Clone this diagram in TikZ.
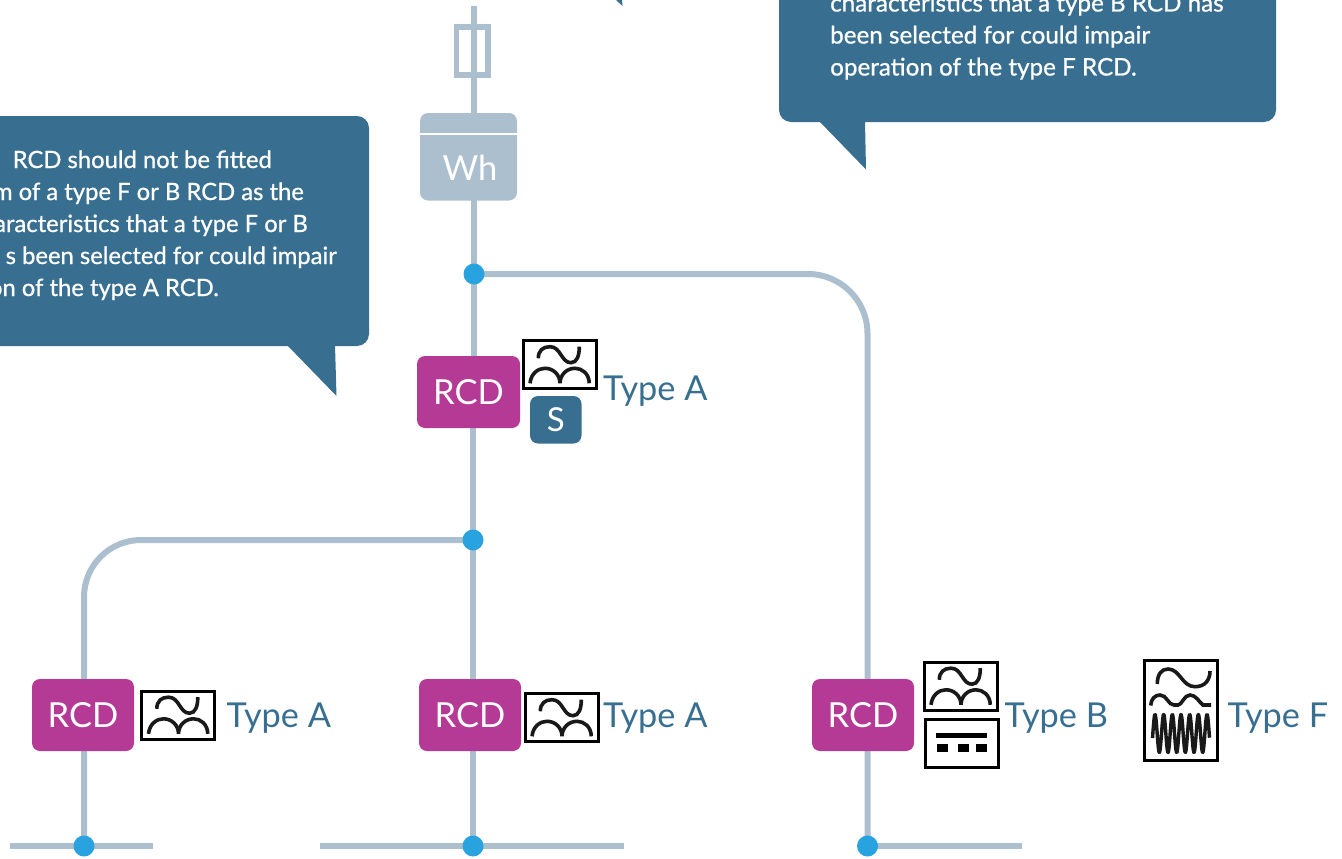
\documentclass[tikz,border=0pt]{standalone}
\usepackage{fontspec}
\setmainfont{Lato}
\newfontfamily\bubblefont[FakeBold=0.8]{Lato}
\usetikzlibrary{backgrounds}
\definecolor{wire}{HTML}{ACBFCF}
\definecolor{dotblue}{HTML}{29A3DF}
\definecolor{rcdpink}{HTML}{B53A96}
\definecolor{steel}{HTML}{386F91}
\tikzset{
  wireline/.style={draw=wire,line width=6pt},
  junction/.style={circle,fill=dotblue,inner sep=0pt,minimum size=21pt},
  rcdbox/.style={fill=rcdpink,rounded corners=8pt,inner sep=0pt,minimum width=102pt,minimum height=72pt,text=white,font=\fontsize{34.5}{34.5}\selectfont},
  typelabel/.style={anchor=base west,inner sep=0pt,text=steel,font=\fontsize{34.3}{34.3}\selectfont},
  bubble/.style={fill=steel,rounded corners=12pt},
  bubbletext/.style={inner sep=0pt,text=white,font=\fontsize{24.2}{24.2}\bubblefont},
  bubbletextleft/.style={inner sep=0pt,text=white,anchor=base east,font=\fontsize{23.8}{23.8}\bubblefont},
  iconframe/.style={draw=black,line width=3pt,fill=white},
  iconcurve/.style={draw=black!90,line width=3.6pt,line cap=butt},
  pics/acicon/.style={code={
    \draw[iconframe] (0,0) rectangle (73,48);
    \draw[iconcurve] (15.3,17.8) .. controls (15.3,10) and (20,6.2) .. (27,6.2) .. controls (38,6.2) and (38,22.2) .. (48,22.2) .. controls (54,22.2) and (56.3,15) .. (56.3,6.2);
    \draw[iconcurve] (7,42.8) .. controls (8,33) and (15,27.8) .. (22,27.8) .. controls (30,27.8) and (37,34) .. (37,42.8) .. controls (37,34) and (44,27.8) .. (52,27.8) .. controls (59,27.8) and (66,33) .. (66.3,42.8);
  }}
}
\begin{document}
\begin{tikzpicture}[x=1pt,y=-1pt]
\useasboundingbox (0,0) rectangle (1342,859);
\clip (0,0) rectangle (1342,859);
% bubbles
\fill[steel] (616,0) -- (622.5,6) -- (622,0) -- cycle;
\fill[bubble] (779,-40) -- (779,122) -- (1276,122) -- (1276,-40) -- cycle;
\fill[steel] (819,121) -- (866,169.5) -- (865,121) -- cycle;
\fill[bubble] (-40,116) rectangle (369,346);
\fill[steel] (287,345) -- (336.5,396) -- (335,345) -- cycle;
\node[bubbletext,anchor=base west] at (830,11.5) {characteristics that a type B RCD has};
\node[bubbletext,anchor=base west] at (830,43.5) {been selected for could impair};
\node[bubbletext,anchor=base west] at (830,75.5) {operation of the type F RCD.};
\node[bubbletextleft] at (272,168) {RCD should not be fitted};
\node[bubbletextleft] at (304,200) {m of a type F or B RCD as the};
\node[bubbletextleft] at (308,232) {aracteristics that a type F or B};
\node[bubbletextleft] at (337,264) {s been selected for could impair};
\node[bubbletextleft] at (219,296) {on of the type A RCD.};
% equipment
\coordinate (feed) at (474,6);
\node[fill=wire,rounded corners=8pt,inner sep=0pt,minimum width=97pt,minimum height=87.5pt] (wh) at (468.5,156.75) {};
\draw[white,line width=2.5pt] (420,134) -- (517,134);
\node[text=white,inner sep=0pt,font=\fontsize{34.5}{34.5}\selectfont] (whtext) at (470,168) {Wh};
\node[rcdbox,minimum width=103pt] (r1) at (468.5,392) {RCD};
\node[rcdbox] (r2) at (83,715) {RCD};
\node[rcdbox] (r3) at (470,715) {RCD};
\node[rcdbox] (r4) at (863,715) {RCD};
\node[fill=steel,rounded corners=8pt,inner sep=0pt,minimum width=51.5pt,minimum height=47.5pt,text=white,font=\fontsize{33}{33}\selectfont] (s) at (555.75,419.75) {\raisebox{-1.5pt}{S}};
% junctions
\node[junction] (j1) at (474,274) {};
\node[junction] (j2) at (473,540) {};
\node[junction] (b1) at (84,846) {};
\node[junction] (b2) at (473,846) {};
\node[junction] (b3) at (867.5,846) {};
\coordinate (b1l) at (10,846);
\coordinate (b1r) at (153,846);
\coordinate (b2l) at (320,846);
\coordinate (b2r) at (624,846);
\coordinate (b3r) at (1022,846);
% wires
\begin{scope}[on background layer]
\draw[wireline] (feed) -- (j1.center);
\draw[wireline] (j1.center) -- (r1.north -| j1.center);
\draw[wireline] (r1.south -| b2.center) -- (b2.center);
\draw[wireline] (j1.center) -- (808,274) arc[start angle=-90,end angle=0,x radius=59.5pt,y radius=-59.5pt] -- (b3.center);
\draw[wireline] (j2.center) -- (141,540) arc[start angle=-90,end angle=-180,x radius=57pt,y radius=-57pt] -- (b1.center);
\draw[wireline] (b1l) -- (b1r);
\draw[wireline] (b2l) -- (b2r);
\draw[wireline] (b3.center) -- (b3r);
\end{scope}
\draw[draw=wire,line width=5.7pt] (456.5,27) rectangle (488,75);
% icons
\pic at (523,340.5) {acicon};
\pic at (141.5,691) {acicon};
\pic at (525,693.5) {acicon};
\pic at (924,662) {acicon};
% DC icon
\draw[iconframe] (925,719) rectangle (998,767);
\fill[black] (936,732.5) rectangle (987,737.5);
\fill[black] (937,744) rectangle (948,751.5);
\fill[black] (958,744) rectangle (969,751.5);
\fill[black] (976,744) rectangle (987,751.5);
% type F icon
\draw[iconframe] (1144.5,660) rectangle (1217,760.5);
\draw[iconcurve] (1157.3,684) .. controls (1157.3,675) and (1161,669) .. (1168,669) .. controls (1180,669) and (1182,686.7) .. (1195,686.7) .. controls (1205,686.7) and (1210,680) .. (1210,671);
\draw[iconcurve] (1150.7,705.5) .. controls (1151,699) and (1155,695) .. (1160,695) .. controls (1167,695) and (1168,705) .. (1174,705) -- (1178,705) .. controls (1182,705) and (1184,695) .. (1190,695) .. controls (1196,695) and (1199,702) .. (1203,705) -- (1211,705);
\draw[draw=black!90,line width=3.4pt,line join=round] plot[domain=-2.5:54.5,samples=300] ({1155+\x},{733.5-19*cos(41.52*\x)});
% labels
\node[typelabel] (t1) at (603,400) {Type A};
\node[typelabel] (t2) at (226.5,727) {Type A};
\node[typelabel] (t3) at (603,727) {Type A};
\node[typelabel] (t4) at (1004.5,727) {Type B};
\node[typelabel] (t5) at (1227.5,727) {Type F};
\end{tikzpicture}
\end{document}
